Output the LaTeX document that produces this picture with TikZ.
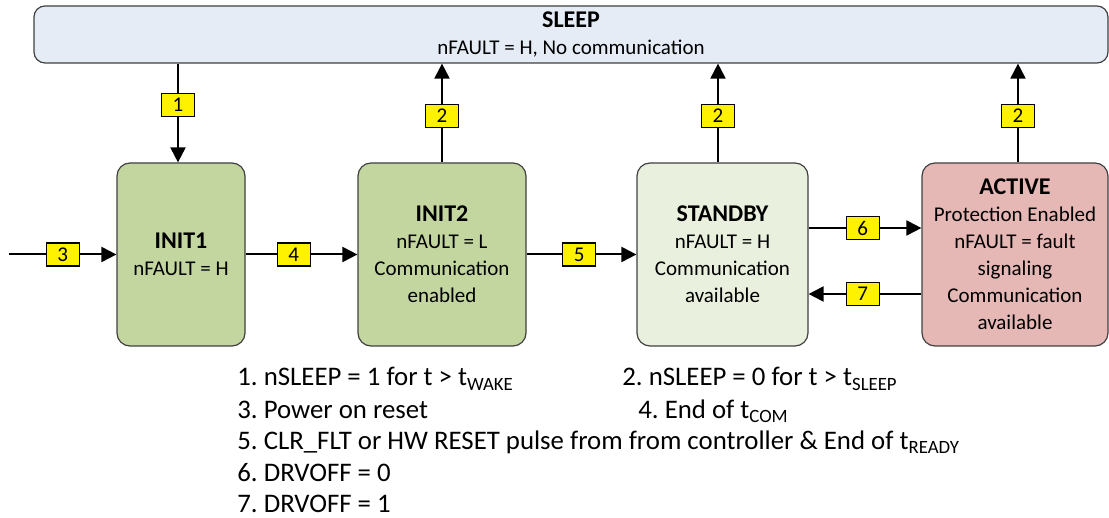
\documentclass[tikz,border=0pt]{standalone}
\usepackage{fontspec}
\setmainfont{Carlito}
\usepackage{tikz}
\usetikzlibrary{positioning,arrows.meta}

\definecolor{sleepblue}{RGB}{230,236,246}
\definecolor{initgreen}{RGB}{196,214,160}
\definecolor{standbygreen}{RGB}{234,240,222}
\definecolor{activered}{RGB}{230,184,181}
\definecolor{boxline}{RGB}{64,64,64}

\newcommand{\statetitle}[1]{{\fontsize{12}{13.5}\selectfont\bfseries #1}}
\frenchspacing

\begin{document}
\begin{tikzpicture}[x=0.5pt, y=-0.5pt,
        modebox/.style={rectangle, rounded corners=6.5pt, draw=boxline, line width=0.6pt, align=center, inner sep=0pt, minimum height=91.5pt, font=\fontsize{10.5}{13.5}\selectfont},
        numtag/.style={rectangle, draw=black, fill=yellow, line width=0.6pt, inner sep=0pt, minimum width=16.5pt, minimum height=11.5pt, font=\fontsize{10.5}{12}\selectfont},
        trans/.style={-{Triangle[length=7.5pt, width=7.5pt]}, line width=1pt},
        legline/.style={anchor=base west, inner sep=0pt, font=\fontsize{13.4}{15}\selectfont}]
        \useasboundingbox (0,0) rectangle (1109,518);

        \node[modebox, fill=sleepblue, rounded corners=5.5pt, minimum width=537pt, minimum height=28.5pt] (SLEEP) at (571,34.5) {\statetitle{SLEEP}\\nFAULT = H, No communication};
        \node[modebox, fill=initgreen, minimum width=64pt] (INIT1) at (181,254.5) {\statetitle{INIT1}\\nFAULT = H};
        \node[modebox, fill=initgreen, minimum width=84pt] (INIT2) at (442,254.5) {\statetitle{INIT2}\\nFAULT = L\\Communication\\enabled};
        \node[modebox, fill=standbygreen, minimum width=85.5pt] (STANDBY) at (722.5,254.5) {\statetitle{STANDBY}\\nFAULT = H\\Communication\\available};
        \node[modebox, fill=activered, minimum width=93pt] (ACTIVE) at (1015,254.5) {\statetitle{ACTIVE}\\Protection Enabled\\nFAULT = fault\\signaling\\Communication\\available};
        \coordinate (POR) at (9,254.5);

        \node[legline] (L1) at (237,386) {1. nSLEEP = 1 for t > t\textsubscript{WAKE}};
        \node[legline] (L2) at (622,386) {2. nSLEEP = 0 for t > t\textsubscript{SLEEP}};
        \node[legline, below=16.25pt of L1.base west, anchor=base west] (L3) {3. Power on reset};
        \node[legline] (L4) at (638,418.5) {4. End of t\textsubscript{COM}};
        \node[legline, below=15.5pt of L3.base west, anchor=base west] (L5) {5. CLR\_FLT or HW RESET pulse from from controller \& End of t\textsubscript{READY}};
        \node[legline, below=15.75pt of L5.base west, anchor=base west] (L6) {6. DRVOFF = 0};
        \node[legline, below=15.5pt of L6.base west, anchor=base west] (L7) {7. DRVOFF = 1};

        \draw[trans] ([xshift=-1.5pt]INIT1.north |- SLEEP.south) -- node[numtag, pos=0.42] {1} ([xshift=-1.5pt]INIT1.north);
        \draw[trans] (INIT2) -- node[numtag, pos=0.47] {2} (INIT2 |- SLEEP.south);
        \draw[trans] ([xshift=-2.25pt]STANDBY.north) -- node[numtag, pos=0.47] {2} ([xshift=-2.25pt]STANDBY.north |- SLEEP.south);
        \draw[trans] ([xshift=1.5pt]ACTIVE.north) -- node[numtag, pos=0.47] {2} ([xshift=1.5pt]ACTIVE.north |- SLEEP.south);
        \draw[trans] (POR) -- node[numtag] {3} (INIT1);
        \draw[trans] (INIT1) -- node[numtag, pos=0.43] {4} (INIT2);
        \draw[trans] (INIT2) -- node[numtag, pos=0.48] {5} (STANDBY);
        \draw[trans] ([yshift=13.25pt]STANDBY.east) -- node[numtag, pos=0.48] {6} ([yshift=13.25pt]ACTIVE.west);
        \draw[trans] ([yshift=-19.75pt]ACTIVE.west) -- node[numtag, pos=0.52] {7} ([yshift=-19.75pt]STANDBY.east);
\end{tikzpicture}
\end{document}
